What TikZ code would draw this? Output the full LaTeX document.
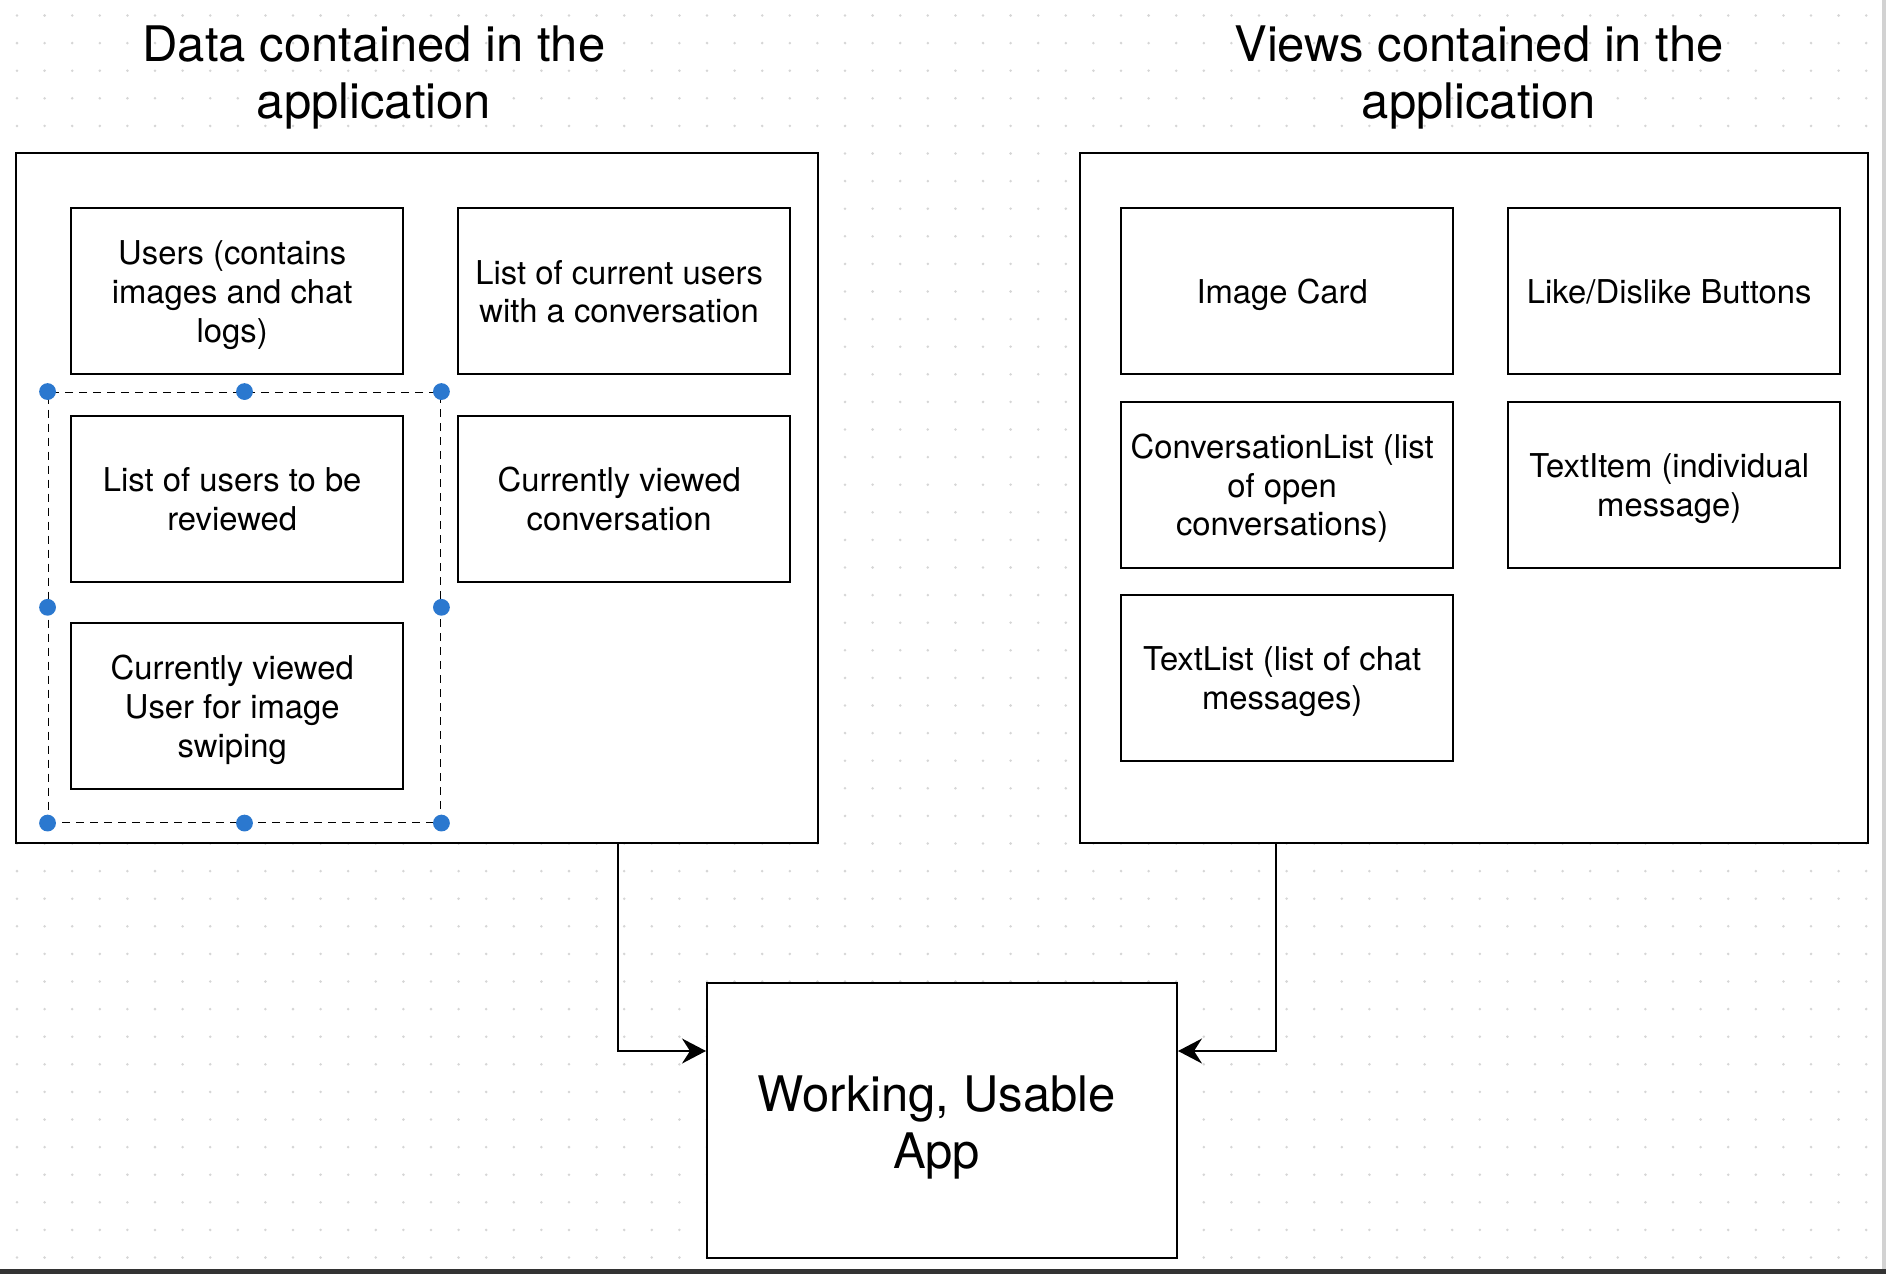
\documentclass[tikz,border=0pt]{standalone}
\usepackage{fontspec}
\setmainfont{TeX Gyre Heros}
\usetikzlibrary{arrows.meta,calc}
\definecolor{handle}{HTML}{2B78CF}
\definecolor{griddot}{HTML}{D6D6D6}
\newcommand\txtbox[4][]{%
  \node[box,#1] (#2) at (#3) {};
  \node[boxtext] (#2-t) at ([xshift=-2.4pt,yshift=-2.4pt]#2.center) {\begin{tabular}{@{}c@{}}#4\end{tabular}};
}
\begin{document}
\begin{tikzpicture}[x=0.5pt,y=-0.5pt,
  box/.style={draw=black,line width=1pt,fill=white,minimum width=166pt,minimum height=83pt,inner sep=0pt},
  boxtext/.style={inner sep=0pt,font=\fontsize{16.4}{19.3}\selectfont},
  frame/.style={draw=black,line width=1pt,fill=white,inner sep=0pt},
  title/.style={align=center,font=\fontsize{24.5}{28.8}\selectfont,inner sep=0pt},
  bigtext/.style={inner sep=0pt,align=center,font=\fontsize{24.5}{28.4}\selectfont},
  conn/.style={draw=black,line width=1pt,-{Stealth[length=12pt,width=12.5pt,inset=4pt]}},
  sel/.style={draw=black,line width=0.75pt,dash pattern=on 4pt off 3pt,inner sep=0pt},
  hdl/.style={circle,fill=handle,inner sep=0pt,minimum size=8.4pt},
]
\fill[white] (0,0) rectangle (1886,1274);
\useasboundingbox (0,0) rectangle (1886,1274);
% dotted grid
\foreach \i in {0,...,67}{
  \foreach \j in {0,...,45}{
    \fill[griddot] ({17+27.6*\i},{15.5+27.6*\j}) circle[radius=0.7pt];
  }
}
% screen edges
\fill[black!80] (0,1269) rectangle (1886,1274);
\fill[gray!35] (1882,0) rectangle (1886,1269);

% outer frames
\node[frame,minimum width=401.2pt,minimum height=345.1pt] (dataBox) at (416.8,497.9) {};
\node[frame,minimum width=394pt,minimum height=345.1pt] (viewBox) at (1474,497.9) {};

% titles
\node[title] (dataTitle) at (374,77.5) {Data contained in the\\application};
\node[title] (viewTitle) at (1479,77.5) {Views contained in the\\application};

% data boxes
\txtbox{users}{237,291}{Users (contains\\images and chat\\logs)}
\txtbox{curList}{624,291}{List of current users\\with a conversation}
\txtbox{review}{237,498.5}{List of users to be\\reviewed}
\txtbox{curConv}{624,498.5}{Currently viewed\\conversation}
\txtbox{curUser}{237,706}{Currently viewed\\User for image\\swiping}

% view boxes
\txtbox{imgCard}{1287,291}{Image Card}
\txtbox{likeBtn}{1674,291}{Like/Dislike Buttons}
\txtbox{convList}{1287,484.5}{ConversationList (list\\of open\\conversations)}
\txtbox{textItem}{1674,484.5}{TextItem (individual\\message)}
\txtbox{textList}{1287,677.5}{TextList (list of chat\\messages)}

% selection
\node[sel,minimum width=196.2pt,minimum height=215pt] (selBox) at (244.5,607.3) {};
\foreach \a/\n in {north west/1,north/2,north east/3,east/4,south east/5,south/6,south west/7,west/8}{
  \node[hdl] (h\n) at (selBox.\a) {};
}

% app
\node[box,minimum width=235pt,minimum height=137.5pt] (app) at (942,1120.5) {};
\node[bigtext] (app-t) at ([xshift=-2.7pt,yshift=-3.4pt]app.center) {Working, Usable\\App};

% connectors
\coordinate (lx) at (618,0);
\coordinate (rx) at (1276,0);
\coordinate (cy) at (0,1051);
\draw[conn] (dataBox.south -| lx) |- (app.west |- cy);
\draw[conn] (viewBox.south -| rx) |- (app.east |- cy);
\end{tikzpicture}
\end{document}
